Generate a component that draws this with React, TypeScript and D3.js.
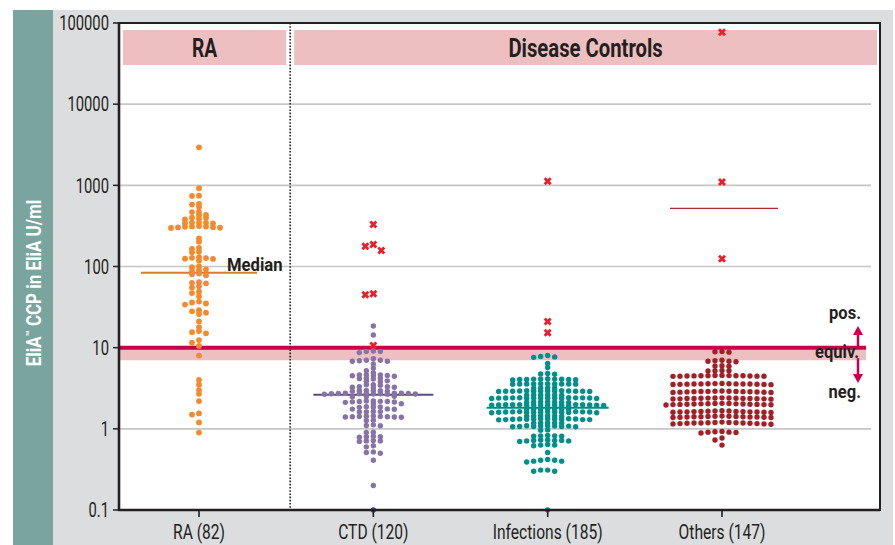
import * as d3 from 'd3';

// ── Data ──

const categories = ['RA (82)', 'CTD (120)', 'Infections (185)', 'Others (147)'];

const raValues = [
  2940, 920, 745, 740, 590, 580, 540, 470, 468, 432, 428, 400, 395, 390, 380, 350, 348, 345, 342, 340,
  315, 312, 310, 308, 305, 303, 300, 298, 222, 202, 170, 165, 152, 150, 130, 128, 127, 125, 124, 118,
  100, 98, 92, 90, 88, 82, 80, 78, 64, 63, 62, 57, 55, 49, 47, 43, 37, 36, 35, 34, 29, 28, 27, 26, 21,
  17.8, 16, 15.5, 15, 12.4, 11.5, 10.5, 8.0, 4.0, 3.5, 3.0, 2.7, 2.2, 1.55, 1.5, 1.2, 0.9,
];

const ctdValues = [
  18.5, 14.3, 9.1, 9.0, 9.0, 8.7, 7.3, 7.0, 7.0, 6.9, 6.8, 6.8, 6.3, 5.6, 5.2, 4.9,
  4.65, 4.6, 4.6, 4.55, 4.5, 4.5, 4.45, 4.2, 4.2, 4.15, 4.1, 3.9, 3.85, 3.8, 3.5, 3.5, 3.45,
  3.3, 3.3, 3.25, 3.25, 3.2, 2.98, 2.95, 2.95, 2.92, 2.9, 2.9,
  2.75, 2.75, 2.74, 2.73, 2.72, 2.72, 2.71, 2.7, 2.7, 2.69, 2.68, 2.67, 2.66, 2.52, 2.5, 2.48,
  2.2, 2.2, 2.18, 2.17, 2.17, 2.15, 2.14, 2.12, 2.04, 2.02, 1.87, 1.86, 1.85, 1.84, 1.76, 1.75, 1.74,
  1.64, 1.63, 1.62, 1.62, 1.44, 1.43, 1.42, 1.42, 1.41, 1.41, 1.4, 1.4, 1.39, 1.28, 1.27,
  1.12, 1.1, 1.09, 0.91, 0.9, 0.81, 0.8, 0.8, 0.79, 0.72, 0.71, 0.71, 0.7, 0.62, 0.6,
  0.52, 0.51, 0.5, 0.41, 0.2, 0.1,
];

const infValues = [
  8.0, 7.8, 7.7, 7.6, 6.4, 5.7, 4.8, 4.75, 4.7,
  4.15, 4.12, 4.1, 4.1, 4.08, 4.06, 4.05, 4.05, 4.02, 4.0,
  3.6, 3.59, 3.58, 3.58, 3.57, 3.57, 3.56, 3.56, 3.55, 3.54, 3.19, 3.18, 3.18, 3.17,
  2.94, 2.94, 2.93, 2.93, 2.92, 2.92, 2.92, 2.91, 2.91, 2.91, 2.9, 2.9, 2.89, 2.89,
  2.62, 2.62, 2.61, 2.61, 2.6, 2.6,
  2.42, 2.42, 2.41, 2.41, 2.41, 2.4, 2.4, 2.4, 2.4, 2.39, 2.39, 2.39, 2.38, 2.38, 2.37, 2.37,
  2.15, 2.15, 2.14, 2.14, 2.13, 2.13, 2.12,
  1.99, 1.99, 1.98, 1.98, 1.98, 1.97, 1.97, 1.97, 1.97, 1.96, 1.96, 1.96, 1.95, 1.95, 1.95, 1.94, 1.94,
  1.77, 1.76, 1.76, 1.75, 1.75, 1.74, 1.74,
  1.63, 1.63, 1.62, 1.62, 1.62, 1.61, 1.61, 1.61, 1.61, 1.6, 1.6, 1.6, 1.59, 1.59, 1.58, 1.58,
  1.45, 1.45, 1.44, 1.44, 1.43, 1.43,
  1.33, 1.33, 1.33, 1.32, 1.32, 1.32, 1.32, 1.31, 1.31, 1.31, 1.3, 1.3, 1.3, 1.29,
  1.19, 1.18, 1.18, 1.17, 1.17, 1.09, 1.09, 1.08, 1.08, 1.08, 1.07, 1.07, 1.07, 1.06, 1.06, 0.97, 0.96,
  0.83, 0.82, 0.82, 0.81, 0.81, 0.73, 0.73, 0.72, 0.72, 0.72, 0.71, 0.71, 0.7,
  0.64, 0.63, 0.63, 0.62, 0.51, 0.42, 0.41, 0.41, 0.4, 0.4, 0.39, 0.31, 0.31, 0.3, 0.3, 0.1,
];

const othValues = [
  9.0, 8.9, 8.8, 7.0, 6.9, 6.8, 6.8, 6.7, 6.0, 5.95, 5.9, 5.25, 5.2, 5.2, 5.15,
  4.55, 4.54, 4.53, 4.52, 4.51, 4.5, 4.5, 4.49, 4.48, 4.47, 4.46, 4.45, 4.44, 4.43,
  3.62, 3.61, 3.6, 3.59, 3.58, 3.58, 3.57, 3.57, 3.56, 3.55, 3.54, 3.53, 3.52, 3.51, 3.5,
  2.92, 2.91, 2.9, 2.89, 2.88, 2.88, 2.87, 2.87, 2.86, 2.85, 2.84, 2.83, 2.82, 2.81, 2.8,
  2.41, 2.4, 2.4, 2.39, 2.38, 2.38, 2.37, 2.37, 2.36, 2.36, 2.35, 2.34, 2.34, 2.33, 2.32,
  2.06, 2.05, 2.05, 2.04, 2.03, 2.03, 2.02, 2.02, 2.01, 2.01, 2.0, 2.0, 1.99, 1.99, 1.98, 1.97,
  1.67, 1.66, 1.66, 1.65, 1.64, 1.64, 1.63, 1.63, 1.62, 1.62, 1.61, 1.61, 1.6, 1.6, 1.59,
  1.44, 1.43, 1.43, 1.42, 1.42, 1.41, 1.41, 1.41, 1.4, 1.4, 1.4, 1.39, 1.39, 1.38, 1.38,
  1.21, 1.2, 1.2, 1.19, 1.19, 1.18, 1.18, 1.18, 1.17, 1.17, 1.16, 1.16, 1.15, 1.15, 1.14,
  0.93, 0.92, 0.91, 0.91, 0.9, 0.89, 0.77, 0.73, 0.63,
];

const outliers = [[], [330, 187, 177, 158, 46, 45, 10.6], [1120, 21, 15.3], [77000, 1100, 125]];
const medians = [84, 2.63, 1.82, 520];
const yTicks = [0.1, 1, 10, 100, 1000, 10000, 100000];
const cutoff = 10;
const equivLow = 7;

// ── Styles ──

const FONT = "Roboto, 'DejaVu Sans', sans-serif";
const INK = '#231f20';
const PINK = '#eebfc0';
const CRIMSON = '#c8004b';
const DOT_COLORS = ['#f58a2c', '#8873a8', '#00908c', '#a31e25'];
const MEDIAN_COLORS = ['#e07a2a', '#5c4a80', '#0a8784', '#b32a2e'];
const MEDIAN_HALF = [58, 60, 61, 52];
const groups = [raValues, ctdValues, infValues, othValues];

const PL = 119;
const PR = 880;
const PT = 23;
const PB = 510;

const y = d3.scaleLog().domain([0.1, 100000]).range([PB, PT]);
const x = d3.scalePoint<string>().domain(categories).range([199, 722]);

interface Pt {
  v: number;
  x: number;
  y: number;
}

// beeswarm with box collision: points closer than vgap vertically sit hgap apart
function swarm(values: number[], cx: number, hgap: number, vgap: number): Pt[] {
  const sorted = [...values].sort((a, b) => b - a);
  const placed: Pt[] = [];
  sorted.forEach((v) => {
    const py = y(v);
    const near = placed.filter((q) => Math.abs(q.y - py) < vgap);
    const cands = [cx];
    near.forEach((q) => cands.push(q.x - hgap, q.x + hgap));
    cands.sort((a, b) => Math.abs(a - cx) - Math.abs(b - cx));
    const px = cands.find((c) => near.every((q) => Math.abs(q.x - c) >= hgap - 0.01)) ?? cx;
    placed.push({ v, x: px, y: py });
  });
  return placed;
}

// condensed text: Roboto squeezed horizontally
function CText(props: {
  x: number;
  y: number;
  sx: number;
  rotate?: number;
  children: React.ReactNode;
  [k: string]: unknown;
}) {
  const { x: tx, y: ty, sx, rotate = 0, children, ...rest } = props;
  return (
    <text transform={`translate(${tx},${ty}) rotate(${rotate}) scale(${sx},1)`} {...rest}>
      {children}
    </text>
  );
}

const crossPath = d3.symbol(d3.symbolCross, 40)() ?? '';

export default function App() {
  const dots = groups.map((vals, i) => swarm(vals, x(categories[i])!, 7, 3));
  const xs = outliers.map((vals, i) => swarm(vals, x(categories[i])!, 8, 6));
  const divider = (x(categories[0])! + x(categories[1])!) / 2 + 4;
  const arrowX = 858;

  return (
    <svg
      width={895}
      height={545}
      style={{ position: 'absolute', left: 0, top: 0, background: '#fff' }}
      fontFamily={FONT}
    >
      <rect x={13} y={10} width={880} height={535} fill="#dcdddf" />
      <rect x={13} y={10} width={40} height={535} fill="#7aa59f" />
      <rect x={PL} y={PT} width={PR - PL} height={PB - PT} fill="#fff" stroke={INK} strokeWidth={2} />

      {/* header bands */}
      <rect x={123} y={30} width={divider - 4 - 123} height={35} fill={PINK} />
      <rect x={divider + 4} y={30} width={877 - divider - 4} height={35} fill={PINK} />
      <CText x={(123 + divider - 4) / 2} y={57} sx={0.74} textAnchor="middle" fontSize={26} fontWeight="bold" fill={INK}>
        RA
      </CText>
      <CText x={(divider + 4 + 877) / 2} y={57} sx={0.78} textAnchor="middle" fontSize={26} fontWeight="bold" fill={INK}>
        Disease Controls
      </CText>

      {/* grid */}
      {yTicks
        .filter((t) => t > 0.1 && t < 100000 && t !== cutoff)
        .map((t) => (
          <line key={t} x1={PL} x2={871} y1={y(t)} y2={y(t)} stroke="#c6c6c6" strokeWidth={1.6} />
        ))}

      {/* cutoff & equivocal zone */}
      <rect x={PL} y={y(cutoff)} width={866 - PL} height={y(equivLow) - y(cutoff)} fill={PINK} />
      <line x1={PL} x2={866} y1={y(cutoff)} y2={y(cutoff)} stroke={CRIMSON} strokeWidth={4} />

      <line x1={divider} x2={divider} y1={PT} y2={PB} stroke={INK} strokeWidth={1.6} strokeDasharray="1.6,1.6" />

      {/* medians */}
      {medians.map((m, i) => (
        <line
          key={i}
          x1={x(categories[i])! - MEDIAN_HALF[i]}
          x2={x(categories[i])! + MEDIAN_HALF[i] + (i === 3 ? 4 : 0)}
          y1={y(m)}
          y2={y(m)}
          stroke={MEDIAN_COLORS[i]}
          strokeWidth={i === 3 ? 1.4 : 2}
        />
      ))}
      <CText x={x(categories[0])! + 28} y={y(medians[0]) - 2} sx={0.9} fontSize={18.5} fontWeight="bold" fill={INK}>
        Median
      </CText>

      {/* dots */}
      {dots.map((pts, i) => (
        <g key={i} fill={DOT_COLORS[i]}>
          {pts.map((p, j) => (
            <circle
              key={j}
              cx={p.x}
              cy={p.y}
              r={i === 0 ? 2.9 : 2.7}
              fill={i === 1 && p.v <= 0.1 ? '#3b4a9c' : undefined}
            />
          ))}
        </g>
      ))}

      {/* outliers */}
      {xs.map((pts, i) => (
        <g key={i} fill="#e8202a">
          {pts.map((p, j) => (
            <path key={j} d={crossPath} transform={`translate(${p.x},${p.y}) rotate(45)`} />
          ))}
        </g>
      ))}

      {/* axes */}
      <line x1={PL} x2={PL} y1={PT - 1} y2={PB + 1} stroke={INK} strokeWidth={2.6} />
      <line x1={PL - 1} x2={PR} y1={PB} y2={PB} stroke={INK} strokeWidth={2.6} />
      {yTicks.map((t) => (
        <g key={t}>
          <line x1={PL - 6} x2={PL} y1={y(t)} y2={y(t)} stroke={INK} strokeWidth={1.5} />
          <CText x={PL - 10} y={y(t)} sx={0.74} dy="0.36em" textAnchor="end" fontSize={20} fill={INK}>
            {t < 1 ? t.toString() : d3.format('d')(t)}
          </CText>
        </g>
      ))}
      {categories.map((c) => (
        <g key={c}>
          <line x1={x(c)!} x2={x(c)!} y1={PB} y2={PB + 7} stroke={INK} strokeWidth={1.6} />
          <CText x={x(c)!} y={539} sx={0.8} textAnchor="middle" fontSize={19.5} fill={INK}>
            {c}
          </CText>
        </g>
      ))}

      {/* pos / equiv / neg */}
      <g fill={INK} fontSize={18} fontWeight="bold" textAnchor="end">
        <CText x={861} y={319} sx={0.92}>pos.</CText>
        <CText x={859} y={358} sx={0.92}>equiv.</CText>
        <CText x={861} y={398} sx={0.92}>neg.</CText>
      </g>
      <g stroke={CRIMSON} strokeWidth={2.5}>
        <line x1={arrowX} x2={arrowX} y1={y(cutoff)} y2={332} />
        <line x1={arrowX} x2={arrowX} y1={y(equivLow) - 2} y2={376} />
      </g>
      <g fill={CRIMSON}>
        <path d={`M${arrowX},326 L${arrowX - 5},335 L${arrowX + 5},335 Z`} />
        <path d={`M${arrowX},383 L${arrowX - 5},374 L${arrowX + 5},374 Z`} />
      </g>

      {/* y title */}
      <CText x={34} y={283} rotate={-90} sx={0.87} textAnchor="middle" dy="0.35em" fontSize={19.5} fontWeight="bold" fill="#fff">
        EliA<tspan fontSize={11} dy={-7}>™</tspan>
        <tspan dy={7}> CCP in EliA U/ml</tspan>
      </CText>
    </svg>
  );
}
